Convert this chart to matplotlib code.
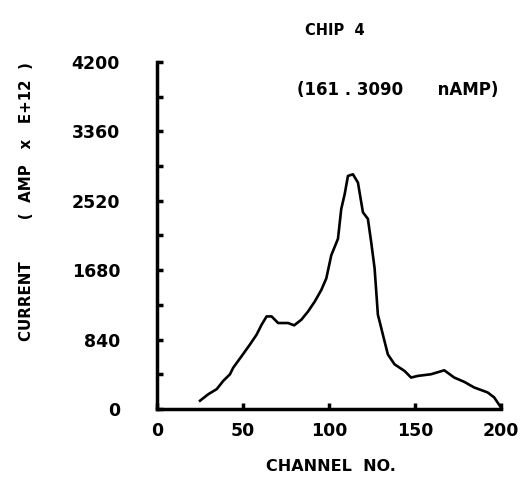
import matplotlib
matplotlib.use("Agg")
import matplotlib.pyplot as plt
from matplotlib.ticker import MultipleLocator

channel = [25.1, 30, 34.8, 38.6, 42.5, 44.4, 49.3, 54.1, 58, 60.9, 63.8, 66.7, 70.5, 76.3,
           79.8, 84, 87.9, 91.8, 95.6, 98.5, 101.4, 105.3, 107.2, 109.2, 111.1, 114, 116.9,
           119.8, 122.7, 124.6, 126.6, 128.5, 129.5, 131.4, 134.3, 138.2, 144, 147.8, 151.7,
           159.4, 167.1, 172.9, 178.7, 184.5, 192.3, 196.1, 200]
current = [100, 180, 240, 340, 420, 500, 640, 780, 900, 1020, 1120, 1120, 1040, 1040,
           1012, 1080, 1180, 1300, 1440, 1580, 1860, 2060, 2420, 2600, 2820, 2840, 2740,
           2380, 2300, 2020, 1700, 1140, 1060, 900, 660, 540, 460, 380, 400,
           420, 468, 380, 328, 260, 200, 140, 20]
x_ticks = [0, 50, 100, 150, 200]
y_ticks = [0, 840, 1680, 2520, 3360, 4200]

fig = plt.figure(figsize=(5.3, 4.8), dpi=100)
ax = fig.add_axes([0.296, 0.148, 0.649, 0.723])
ax.plot(channel, current, color="black", lw=1.9, solid_joinstyle="round")
ax.set_xlim(0, 200)
ax.set_ylim(0, 4200)
ax.set_xticks(x_ticks)
ax.set_yticks(y_ticks)
ax.yaxis.set_minor_locator(MultipleLocator(420))
for s in ("top", "right"):
    ax.spines[s].set_visible(False)
for s in ("left", "bottom"):
    ax.spines[s].set_linewidth(2.5)
ax.tick_params(axis="both", which="both", direction="in", width=2.5, length=4)
ax.tick_params(axis="y", which="major", pad=26.5)
ax.tick_params(axis="x", which="major", pad=9.5)
for lab in ax.get_xticklabels() + ax.get_yticklabels():
    lab.set_fontweight("bold")
    lab.set_fontsize(12.5)
    lab.set_family("DejaVu Sans")

fig.text(0.632, 0.937, "CHIP  4", ha="center", va="center", fontsize=10.5, fontweight="bold")
ax.text(0.70, 0.919, "(161 . 3090      nAMP)", transform=ax.transAxes, ha="center", va="center",
        fontsize=12, fontweight="bold")
fig.text(0.625, 0.028, "CHANNEL  NO.", ha="center", va="center", fontsize=11.5, fontweight="bold")
fig.text(0.05, 0.581, "CURRENT        (  AMP   x   E+12  )", ha="center", va="center",
         rotation=90, fontsize=10.8, fontweight="bold")

fig.savefig("out.png", dpi=100)
